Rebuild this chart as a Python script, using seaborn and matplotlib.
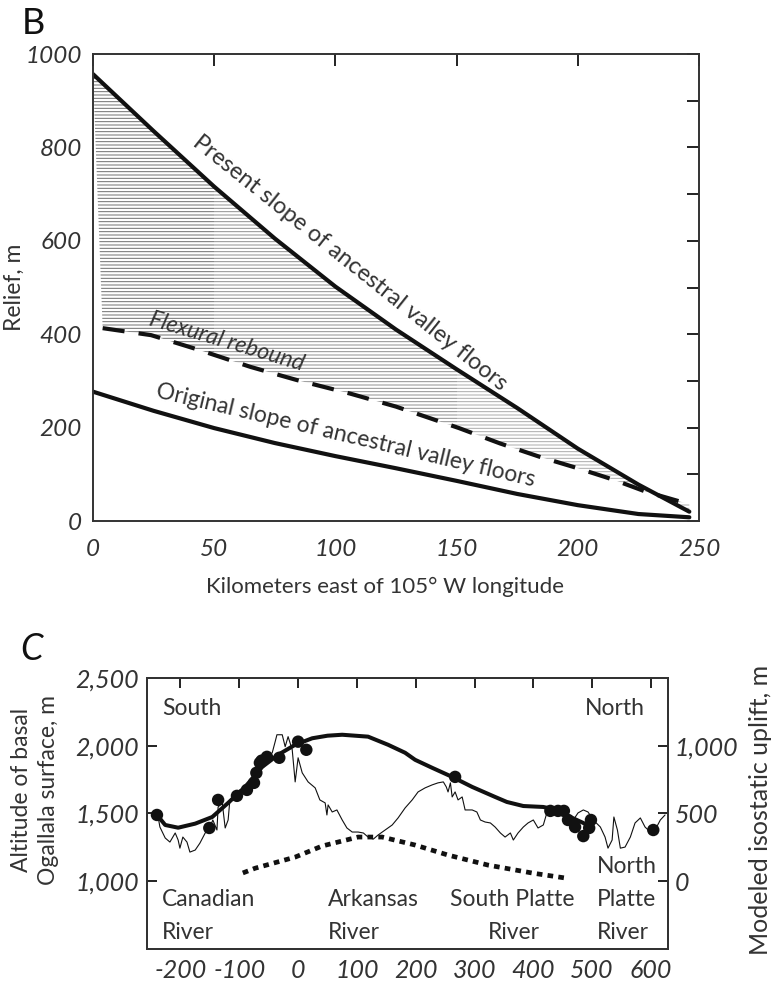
import numpy as np
import pandas as pd
import matplotlib
matplotlib.use("Agg")
import matplotlib.pyplot as plt
from matplotlib.patches import Rectangle
import seaborn as sns

sns.set_theme(style="white")
plt.rcParams["font.family"] = ["Lato", "DejaVu Sans"]
plt.rcParams["hatch.linewidth"] = 0.7

# ---------------- Panel B data ----------------
km_present = [0, 25, 50, 75, 100, 125, 150, 175, 200, 225, 246]
present_slope = [957, 835, 716, 605, 502, 410, 325, 242, 155, 78, 20]

km_flex = [4, 24, 44, 65, 84, 106, 125, 151, 168, 184, 200, 215, 228, 246]
flexural = [413, 398, 366, 330, 302, 273, 245, 199, 166, 138, 113, 88, 63, 36]

km_orig = [0, 25, 50, 75, 100, 125, 150, 175, 200, 225, 246]
original_slope = [277, 236, 199, 167, 139, 113, 86, 58, 34, 15, 8]

b_xticks = [0, 50, 100, 150, 200, 250]
b_yticks = [0, 100, 200, 300, 400, 500, 600, 700, 800, 900, 1000]

# ---------------- Panel C data ----------------
topo_x = [-238, -235, -226, -218, -209, -204, -201, -196, -189, -184, -175, -167,
          -158, -150, -145, -138, -136, -129, -124, -119, -116, -107, -99, -90,
          -78, -73, -68, -60, -51, -44, -39, -36, -27, -22, -17, -10, -5, 0, 7,
          17, 29, 37, 46, 49, 51, 54, 58, 66, 75, 83, 92, 102, 111, 119, 128,
          136, 148, 160, 170, 182, 194, 204, 216, 228, 238, 247, 252, 255, 259,
          262, 267, 272, 279, 284, 296, 304, 310, 318, 327, 335, 344, 352, 361,
          366, 374, 383, 391, 400, 408, 417, 423, 440, 457, 468, 476, 485, 493,
          502, 514, 522, 527, 534, 537, 543, 548, 556, 565, 573, 582, 590, 599,
          607, 616, 624]
topo_y = [1474, 1400, 1319, 1289, 1356, 1304, 1244, 1326, 1289, 1215, 1230, 1281,
          1356, 1400, 1452, 1378, 1548, 1578, 1393, 1452, 1600, 1637, 1674, 1689,
          1748, 1785, 1844, 1911, 1918, 1948, 2030, 2081, 2081, 1993, 2067, 1970,
          1733, 1911, 1800, 1733, 1689, 1600, 1578, 1489, 1563, 1541, 1511, 1526,
          1452, 1393, 1363, 1363, 1356, 1326, 1311, 1341, 1378, 1415, 1467, 1541,
          1600, 1659, 1689, 1711, 1726, 1733, 1696, 1659, 1726, 1622, 1659, 1600,
          1622, 1526, 1526, 1511, 1452, 1437, 1430, 1400, 1356, 1326, 1356, 1304,
          1356, 1400, 1430, 1452, 1393, 1415, 1504, 1511, 1474, 1452, 1504, 1526,
          1511, 1452, 1400, 1326, 1244, 1304, 1474, 1378, 1244, 1252, 1326, 1430,
          1467, 1400, 1363, 1378, 1452, 1489]

model_x = [-240, -226, -204, -175, -146, -119, -90, -61, -34, -5, 24, 50, 75, 119,
           153, 182, 199, 228, 262, 296, 335, 355, 383, 417, 440, 463, 485, 497]
model_y = [1489, 1415, 1395, 1425, 1474, 1578, 1696, 1844, 1933, 2007, 2055, 2074,
           2081, 2067, 2007, 1948, 1896, 1837, 1770, 1696, 1622, 1585, 1555, 1548,
           1526, 1474, 1430, 1400]

uplift_x = [-94, -73, -5, 41, 102, 143, 199, 255, 323, 400, 457]
uplift_y = [1061, 1096, 1178, 1260, 1326, 1326, 1267, 1193, 1119, 1059, 1022]

pts_x = [-240, -151, -136, -104, -87, -75, -71, -65, -62, -53, -32, 0, 14, 267,
         429, 442, 452, 459, 471, 485, 495, 498, 604]
pts_y = [1489, 1393, 1600, 1630, 1674, 1726, 1800, 1874, 1890, 1918, 1911, 2030,
         1970, 1770, 1519, 1519, 1519, 1452, 1400, 1333, 1393, 1452, 1378]

c_xticks = [-200, -100, 0, 100, 200, 300, 400, 500, 600]
c_yticks = [1000, 1500, 2000, 2500]
c_ylabels = ["1,000", "1,500", "2,000", "2,500"]
c_rticks = [0, 500, 1000]
c_rlabels = ["0", "500", "1,000"]

TXT = "#333333"
INK = "#111111"

fig = plt.figure(figsize=(7.76, 9.84), dpi=100)

# ================= Panel B =================
axB = fig.add_axes([0.1198, 0.4705, 0.781, 0.4746])
axB.set_xlim(0, 250)
axB.set_ylim(0, 1000)

poly_x = km_present + km_flex[::-1]
poly_y = present_slope + flexural[::-1]
bands = [(0, 50, "#6f6f6f"), (50, 150, "#8f8f8f"), (150, 250, "#ababab")]
for x0, x1, col in bands:
    patch = axB.fill(poly_x, poly_y, facecolor="none", edgecolor=col,
                     hatch="-----", linewidth=0)[0]
    patch.set_clip_path(Rectangle((x0, 0), x1 - x0, 1000, transform=axB.transData))

sns.lineplot(x=km_present, y=present_slope, ax=axB, color=INK, lw=3.0,
             sort=False, estimator=None)
sns.lineplot(x=km_flex, y=flexural, ax=axB, color=INK, lw=3.0,
             linestyle=(0, (5.3, 3.4)), sort=False, estimator=None)
sns.lineplot(x=km_orig, y=original_slope, ax=axB, color=INK, lw=3.0,
             sort=False, estimator=None)

axB.text(106, 553, "Present slope of ancestral valley floors", rotation=-38.6,
         ha="center", va="center", fontsize=16.8, color=TXT, rotation_mode="anchor")
axB.text(55, 384, "Flexural rebound", rotation=-16.6, ha="center", va="center",
         fontsize=16.5, color=TXT, rotation_mode="anchor", style="italic")
axB.text(104, 184, "Original slope of ancestral valley floors", rotation=-13.3,
         ha="center", va="center", fontsize=16.5, color=TXT, rotation_mode="anchor")

axB.set_xticks(b_xticks)
axB.set_xticklabels([str(v) for v in b_xticks], fontstyle="italic")
axB.set_yticks(b_yticks)
axB.set_yticklabels([str(v) if v % 200 == 0 else "" for v in b_yticks],
                    fontstyle="italic")
axB.tick_params(axis="both", direction="in", length=8.5, width=1.4, top=True,
                right=True, labelsize=17.5, color="#222222", labelcolor=TXT)
axB.tick_params(axis="x", pad=13)
axB.tick_params(axis="y", pad=8)
for sp in axB.spines.values():
    sp.set_color("#333333")
    sp.set_linewidth(1.4)
axB.set_xlabel("Kilometers east of 105° W longitude", fontsize=16, color=TXT,
               va="center")
axB.xaxis.set_label_coords(0.482, -0.141)
axB.set_ylabel("Relief, m", fontsize=16.5, color=TXT, va="center")
axB.yaxis.set_label_coords(-0.129, 0.5)

fig.text(0.028, 0.993, "B", fontsize=26, color=INK, ha="left", va="top")

# ================= Panel C =================
axC = fig.add_axes([0.1894, 0.0356, 0.6714, 0.2754])
axC.set_xlim(-257, 629)
axC.set_ylim(500, 2500)

sns.lineplot(x=topo_x, y=topo_y, ax=axC, color=INK, lw=0.8, sort=False,
             estimator=None)
sns.lineplot(x=model_x, y=model_y, ax=axC, color=INK, lw=2.9, sort=False,
             estimator=None)
sns.lineplot(x=uplift_x, y=uplift_y, ax=axC, color=INK, lw=3.4,
             linestyle=(0, (1.2, 1.1)), sort=False, estimator=None)
sns.scatterplot(x=pts_x, y=pts_y, ax=axC, color=INK, s=80, edgecolor="none",
                zorder=5)

axC.set_xticks(c_xticks)
axC.set_xticklabels([str(v) for v in c_xticks], fontstyle="italic")
axC.set_yticks(c_yticks)
axC.set_yticklabels(c_ylabels, fontstyle="italic")
axC.tick_params(axis="both", direction="in", length=7.5, width=1.4, top=True,
                labelsize=18, color="#222222", labelcolor=TXT)
axC.tick_params(axis="x", pad=7)
axC.tick_params(axis="y", pad=6)
for sp in axC.spines.values():
    sp.set_color("#333333")
    sp.set_linewidth(1.4)

axR = axC.twinx()
axR.set_ylim(-500, 1500)
axR.set_yticks(c_rticks)
axR.set_yticklabels(c_rlabels, fontstyle="italic")
axR.tick_params(axis="y", direction="in", length=7.5, width=1.4, labelsize=18,
                color="#222222", labelcolor=TXT, pad=5)
axR.grid(False)
for sp in axR.spines.values():
    sp.set_color("#333333")
    sp.set_linewidth(1.4)

axC.set_ylabel("Altitude of basal\nOgallala surface, m", fontsize=16.5, color=TXT,
               va="center", linespacing=1.3)
axC.yaxis.set_label_coords(-0.215, 0.587)
axR.set_ylabel("Modeled isostatic uplift, m", fontsize=18, color=TXT,
               va="center", rotation=90)
axR.yaxis.set_label_coords(1.177, 0.513)

lab = dict(fontsize=16.5, color=TXT, ha="left", va="center", transform=axC.transAxes)
axC.text(0.029, 0.889, "South", **lab)
axC.text(0.841, 0.889, "North", **lab)
axC.text(0.029, 0.181, "Canadian", **lab)
axC.text(0.029, 0.059, "River", **lab)
axC.text(0.347, 0.181, "Arkansas", **lab)
axC.text(0.347, 0.059, "River", **lab)
axC.text(0.582, 0.181, "South Platte", **lab)
axC.text(0.655, 0.059, "River", **lab)
axC.text(0.864, 0.303, "North", **lab)
axC.text(0.864, 0.181, "Platte", **lab)
axC.text(0.864, 0.059, "River", **lab)

fig.text(0.026, 0.357, "C", fontsize=26, color=INK, ha="left", va="top",
         style="italic")

fig.savefig("out.png", dpi=100)
